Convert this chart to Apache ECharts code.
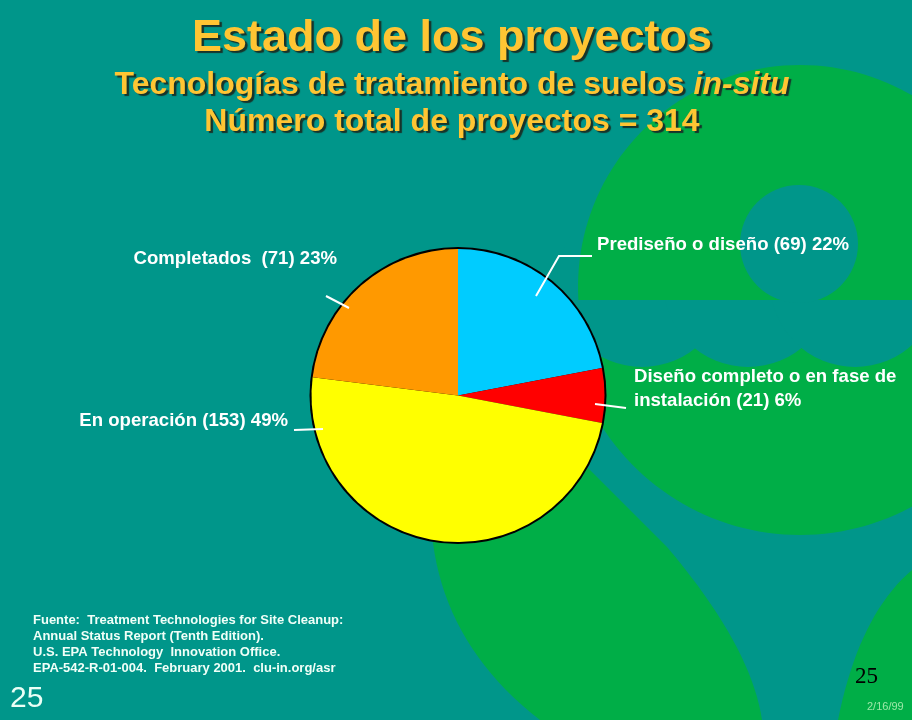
<!DOCTYPE html>
<html>
<head>
<meta charset="utf-8">
<style>html,body{margin:0;padding:0;background:#00968a}#main{width:912px;height:720px}</style>
<script src="https://cdn.jsdelivr.net/npm/echarts@6/dist/echarts.min.js"></script>
</head>
<body>
<div id="main"></div>
<script>
var categories = ['Prediseño o diseño', 'Diseño completo o en fase de\ninstalación', 'En operación', 'Completados '];
var projects = [69, 21, 153, 71];
var percents = [22, 6, 49, 23];
var sliceColors = ['#00ccff', '#ff0000', '#ffff00', '#ff9900'];

var TEAL = '#00968a', GREEN = '#00ae47', GOLD = '#ffc533';
var FONT = '"Liberation Sans", Arial, sans-serif';

// where each label sits, and its leader line
var labelSpots = [
    {x: 597, y: 245, align: 'left', line: [[536, 296], [559, 256], [592, 256]]},
    {x: 634, y: 389, align: 'left', line: [[595, 404], [626, 408]]},
    {x: 288, y: 421, align: 'right', line: [[294, 430], [323, 429]]},
    {x: 337, y: 259, align: 'right', line: [[326, 296], [349, 308]]}
];

var chart = echarts.init(document.getElementById('main'));

var titleShadow = {textShadowColor: '#17332a', textShadowBlur: 1, textShadowOffsetX: 2.5, textShadowOffsetY: 2.5};
function titleStyle(size) {
    return Object.assign({color: GOLD, fontFamily: FONT, fontWeight: 'bold', fontSize: size}, titleShadow);
}

// graphic has no svg path type, so the backdrop curves get sampled into polygons
function curve(p0, c, p1) {
    var pts = [];
    for (var t = 0; t <= 1.001; t += 0.05) {
        var u = 1 - t;
        pts.push([u * u * p0[0] + 2 * u * t * c[0] + t * t * p1[0], u * u * p0[1] + 2 * u * t * c[1] + t * t * p1[1]]);
    }
    return pts;
}
function arc(cx, cy, r, a0, a1) {
    var pts = [];
    for (var i = 0; i <= 90; i++) {
        var a = a0 + (a1 - a0) * i / 90;
        pts.push([cx + r * Math.cos(a), cy + r * Math.sin(a)]);
    }
    return pts;
}
function backdrop(type, shape, fill) {
    return {type: type, z: 0, silent: true, shape: shape, style: {fill: fill}};
}
var domeCut = Math.asin(13 / 222);
var dome = arc(800, 287, 222, Math.PI - domeCut, 2 * Math.PI + domeCut);
var bowl = arc(800, 300, 235, 0, Math.PI);
var leftLobe = [[430, 500], [570, 450], [590, 470]]
    .concat(curve([667, 547], [751, 646], [762, 720]))
    .concat(curve([540, 720], [447, 648], [433, 543]));
var cornerLobe = curve([912, 570], [859, 615], [838, 720]).concat([[912, 720]]);

// the slices follow the printed percentages
var pieData = categories.map(function (name, i) {
    return {name: name, value: percents[i], itemStyle: {color: sliceColors[i]}};
});

var leaders = labelSpots.map(function (s) {
    return {type: 'polyline', z: 3, silent: true, shape: {points: s.line}, style: {stroke: '#fff', lineWidth: 2, fill: null}};
});

chart.setOption({
    backgroundColor: TEAL,
    animation: false,
    title: [
        {text: 'Estado de los proyectos', left: 452, top: 16, textAlign: 'center', padding: 0, textStyle: titleStyle(45)},
        {
            text: 'Tecnologías de tratamiento de suelos {i|in-situ}', left: 452, top: 69, textAlign: 'center', padding: 0,
            textStyle: Object.assign(titleStyle(32), {
                rich: {i: Object.assign(titleStyle(32), {fontStyle: 'italic'})}
            })
        },
        {text: 'Número total de proyectos = 314', left: 452, top: 106, textAlign: 'center', padding: 0, textStyle: titleStyle(32)}
    ],
    graphic: [
        backdrop('polygon', {points: bowl}, GREEN),
        backdrop('circle', {cx: 642, cy: 282, r: 85}, TEAL),
        backdrop('circle', {cx: 748, cy: 282, r: 85}, TEAL),
        backdrop('circle', {cx: 855, cy: 282, r: 85}, TEAL),
        backdrop('polygon', {points: dome}, GREEN),
        backdrop('circle', {cx: 799, cy: 244, r: 59}, TEAL),
        backdrop('polygon', {points: leftLobe}, GREEN),
        backdrop('polygon', {points: cornerLobe}, GREEN),
        // black rim under the slices
        {type: 'circle', z: 1, silent: true, shape: {cx: 458, cy: 395.5, r: 148.5}, style: {fill: '#000'}},
        // footer texts
        {type: 'text', z: 3, silent: true, x: 33, y: 613, style: {
            text: 'Fuente:  Treatment Technologies for Site Cleanup:\nAnnual Status Report (Tenth Edition).\nU.S. EPA Technology  Innovation Office.\nEPA-542-R-01-004.  February 2001.  clu-in.org/asr',
            fill: '#f0fff8', font: 'bold 13px ' + FONT, lineHeight: 15.7}},
        {type: 'text', z: 3, silent: true, x: 10, y: 684, style: {text: '25', fill: '#eafff6', font: '30px ' + FONT}},
        {type: 'text', z: 3, silent: true, x: 855, y: 665, style: {text: '25', fill: '#000', font: '23px "Liberation Serif", serif'}},
        {type: 'text', z: 3, silent: true, x: 867, y: 701, style: {text: '2/16/99', fill: '#9be8a8', font: '11px ' + FONT}}
    ].concat(leaders),
    series: [{
        type: 'pie',
        center: [458, 395.5],
        radius: [0, 146.5],
        startAngle: 90,
        clockwise: true,
        silent: true,
        itemStyle: {borderWidth: 0},
        data: pieData,
        label: {
            show: true,
            position: 'outside',
            overflow: 'none',
            color: '#fff',
            fontFamily: FONT,
            fontWeight: 'bold',
            fontSize: 18.6,
            lineHeight: 24,
            formatter: function (p) {
                return p.name + ' (' + projects[p.dataIndex] + ') ' + percents[p.dataIndex] + '%';
            }
        },
        labelLine: {show: false},
        labelLayout: function (p) {
            var s = labelSpots[p.dataIndex];
            return {x: s.x, y: s.y, align: s.align, verticalAlign: 'middle'};
        }
    }]
});
</script>
</body>
</html>
